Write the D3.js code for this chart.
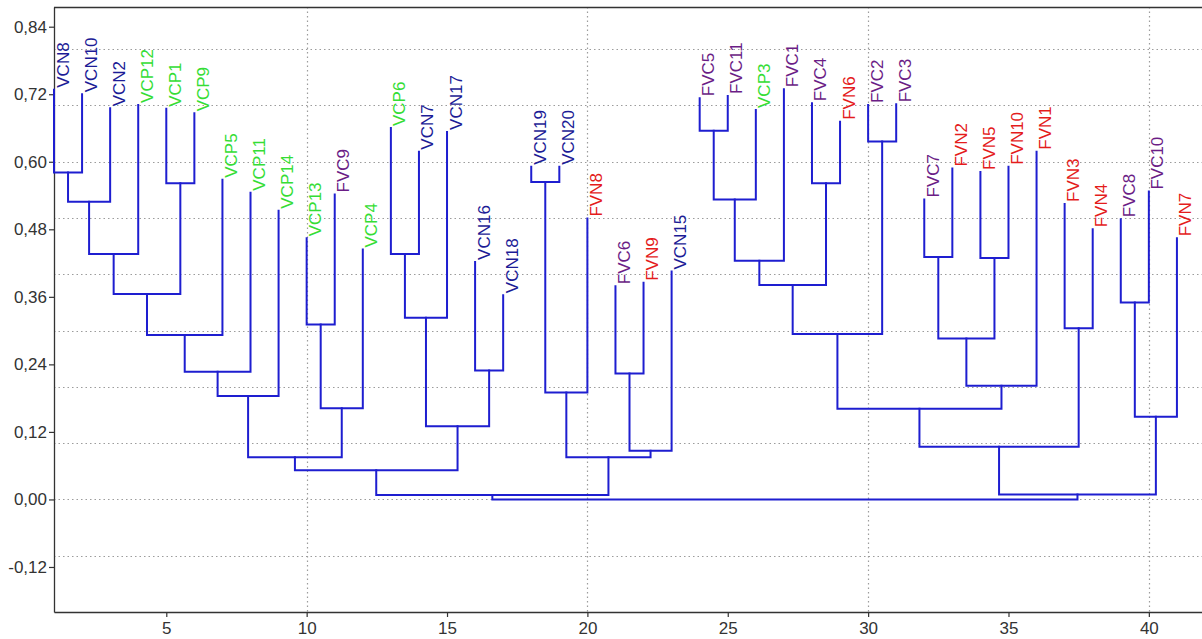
<!DOCTYPE html>
<html>
<head>
<meta charset="utf-8">
<script src="https://cdn.jsdelivr.net/npm/d3@7"></script>
<style>
  html, body { margin: 0; padding: 0; background: #ffffff; }
  svg { display: block; }
</style>
</head>
<body>
<svg id="chart" width="1202" height="639"></svg>
<script>
// Leaf order along the x axis (positions 1..41)
const leafLabels = [
  "VCN8", "VCN10", "VCN2", "VCP12", "VCP1", "VCP9", "VCP5", "VCP11", "VCP14",
  "VCP13", "FVC9", "VCP4", "VCP6", "VCN7", "VCN17", "VCN16", "VCN18",
  "VCN19", "VCN20", "FVN8", "FVC6", "FVN9", "VCN15",
  "FVC5", "FVC11", "VCP3", "FVC1", "FVC4", "FVN6", "FVC2", "FVC3",
  "FVC7", "FVN2", "FVN5", "FVN10", "FVN1", "FVN3", "FVN4", "FVC8", "FVC10", "FVN7"
];

// Height at which each leaf branch starts
const leafHeights = [
  0.728, 0.720, 0.695, 0.701, 0.694, 0.686, 0.568, 0.545, 0.513,
  0.464, 0.542, 0.444, 0.660, 0.618, 0.653, 0.422, 0.363,
  0.591, 0.591, 0.499, 0.379, 0.385, 0.405,
  0.713, 0.717, 0.692, 0.729, 0.704, 0.671, 0.701, 0.702,
  0.533, 0.588, 0.582, 0.591, 0.618, 0.525, 0.480, 0.498, 0.547, 0.464
];

// Linkage: merge k joins mergeLeft[k] and mergeRight[k] into node 41 + k.
// Ids 0..40 refer to leaves, ids >= 41 to earlier merges.
const mergeLeft  = [ 0, 41, 42,  4, 43, 45, 46, 47,  9, 49, 48, 12, 52, 15, 53, 51, 17, 57, 20, 59,
                    58, 56, 23, 63, 64, 27, 65, 29, 67, 31, 33, 70, 72, 69, 36, 74, 38, 77, 76, 62];
const mergeRight = [ 1,  2,  3,  5, 44,  6,  7,  8, 10, 11, 50, 13, 14, 16, 54, 55, 18, 19, 21, 22,
                    60, 61, 24, 25, 26, 28, 66, 30, 68, 32, 34, 71, 35, 73, 37, 75, 39, 40, 78, 79];
const mergeHeight = [0.581, 0.529, 0.436, 0.562, 0.365, 0.292, 0.227, 0.184, 0.311, 0.162,
                     0.075, 0.436, 0.323, 0.229, 0.130, 0.052, 0.564, 0.190, 0.224, 0.0865,
                     0.075, 0.008, 0.655, 0.533, 0.424, 0.562, 0.381, 0.636, 0.294, 0.431,
                     0.429, 0.286, 0.202, 0.161, 0.304, 0.0936, 0.350, 0.147, 0.009, 0.0];

// Axis ticks and grid
const xTicks = [5, 10, 15, 20, 25, 30, 35, 40];
const yTicks = [-0.12, 0, 0.12, 0.24, 0.36, 0.48, 0.60, 0.72, 0.84];
const xGrid = [10, 20, 30, 40];
const yGrid = [-0.1, 0, 0.1, 0.2, 0.3, 0.4, 0.5, 0.6, 0.7, 0.8];

// Label colour by sample group
const groupColors = { VCN: "#1c1c96", VCP: "#35dd35", FVC: "#6b1d86", FVN: "#e41c1c" };
const branchColor = "#1e1ed0";

const plotLeft = 54, plotRight = 1205, plotTop = 7, plotBottom = 612;
const svg = d3.select("#chart");
const font = "'Liberation Sans', Arial, sans-serif";

const x = d3.scaleLinear().domain([1, 42]).range([plotLeft, plotRight]);
const y = d3.scaleLinear().domain([-0.2, 0.875]).range([plotBottom, plotTop]);

const locale = d3.formatLocale({ decimal: ",", thousands: ".", grouping: [3], currency: ["", ""], minus: "-" });
const fmt = locale.format(".2f");

// dotted grid
const grid = svg.append("g")
  .attr("stroke", "#9c9c9c")
  .attr("stroke-width", 1.2)
  .attr("stroke-dasharray", "1.5,3");
grid.selectAll("line.h").data(yGrid).join("line")
  .attr("class", "h")
  .attr("x1", plotLeft).attr("x2", plotRight)
  .attr("y1", d => Math.round(y(d)) + 0.5).attr("y2", d => Math.round(y(d)) + 0.5);
grid.selectAll("line.v").data(xGrid).join("line")
  .attr("class", "v")
  .attr("y1", plotTop).attr("y2", plotBottom)
  .attr("x1", d => Math.round(x(d)) + 0.5).attr("x2", d => Math.round(x(d)) + 0.5);

// frame top
svg.append("line")
  .attr("x1", plotLeft).attr("x2", plotRight)
  .attr("y1", plotTop + 0.5).attr("y2", plotTop + 0.5)
  .attr("stroke", "#333").attr("stroke-width", 1.3);

// axes
const yAxis = svg.append("g")
  .attr("transform", `translate(${plotLeft},0)`)
  .call(d3.axisLeft(y).tickValues(yTicks).tickFormat(fmt).tickSize(5).tickSizeOuter(0).tickPadding(2));
const xAxis = svg.append("g")
  .attr("transform", `translate(0,${plotBottom})`)
  .call(d3.axisBottom(x).tickValues(xTicks).tickFormat(d3.format("d")).tickSize(5).tickSizeOuter(0).tickPadding(5));
[xAxis, yAxis].forEach(a => {
  a.select(".domain").attr("stroke", "#333").attr("stroke-width", 1.3);
  a.selectAll(".tick line").attr("stroke", "#333").attr("stroke-width", 1.2);
  a.selectAll("text").attr("fill", "#333").style("font-family", font).style("font-size", "17px");
});

// node positions: leaves at 1..41, merges at the midpoint of their children
const nodeX = leafLabels.map((_, i) => i + 1);
const nodeH = leafHeights.slice();
mergeLeft.forEach((l, k) => {
  nodeX.push((nodeX[l] + nodeX[mergeRight[k]]) / 2);
  nodeH.push(mergeHeight[k]);
});

// branches: each merge draws a bracket from both children down to the merge height
const branches = svg.append("g")
  .attr("fill", "none")
  .attr("stroke", branchColor)
  .attr("stroke-width", 2)
  .attr("stroke-linejoin", "miter")
  .attr("stroke-linecap", "square");
branches.selectAll("path").data(mergeLeft.map((l, k) => k)).join("path")
  .attr("d", k => {
    const l = mergeLeft[k], r = mergeRight[k];
    const p = d3.path();
    p.moveTo(x(nodeX[l]), y(nodeH[l]));
    p.lineTo(x(nodeX[l]), y(mergeHeight[k]));
    p.lineTo(x(nodeX[r]), y(mergeHeight[k]));
    p.lineTo(x(nodeX[r]), y(nodeH[r]));
    return p.toString();
  });

// rotated leaf labels above each branch tip
svg.append("g").selectAll("text").data(leafLabels).join("text")
  .attr("transform", (d, i) => `translate(${x(i + 1) + 14.5},${y(leafHeights[i]) - 2}) rotate(-90)`)
  .attr("text-anchor", "start")
  .attr("fill", d => groupColors[d.slice(0, 3)])
  .style("font-family", font)
  .style("font-size", "17px")
  .text(d => d);
</script>
</body>
</html>
